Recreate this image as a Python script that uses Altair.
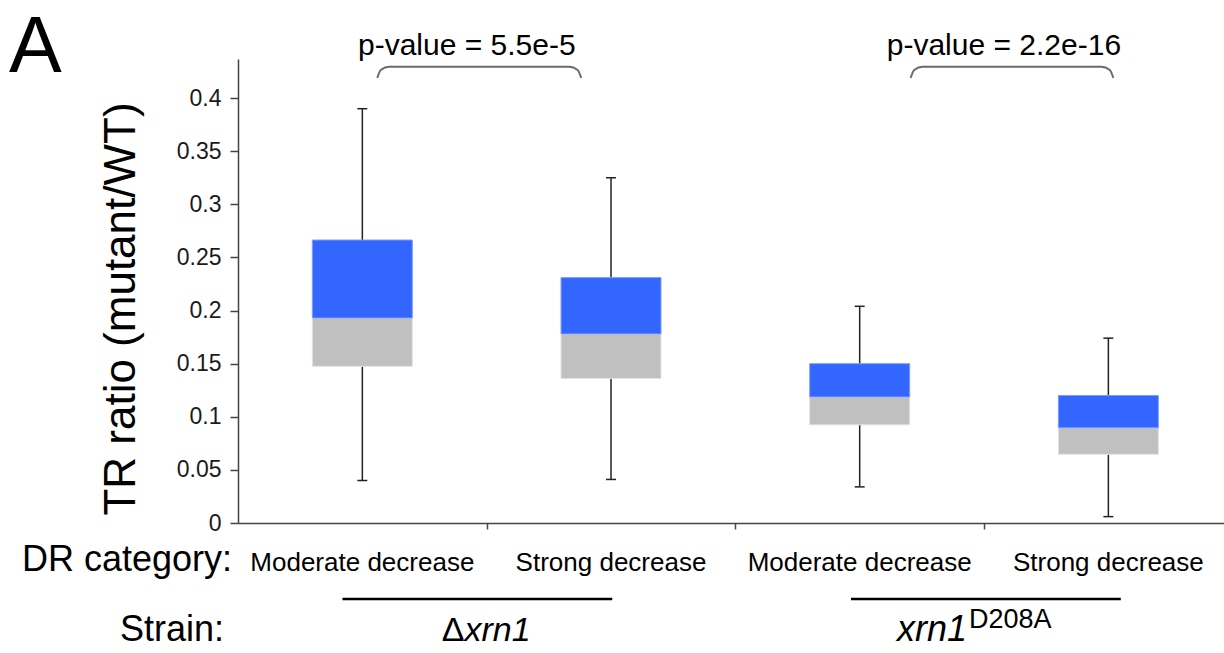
import altair as alt
import pandas as pd

# ---- data ----
categories = ["Moderate decrease", "Strong decrease", "Moderate decrease", "Strong decrease"]
positions = [1, 2, 3, 4]
whisker_low = [0.040, 0.041, 0.034, 0.006]
q1 = [0.1475, 0.136, 0.0924, 0.0647]
median = [0.193, 0.178, 0.1187, 0.0896]
q3 = [0.2664, 0.231, 0.150, 0.120]
whisker_high = [0.390, 0.325, 0.204, 0.174]

y_ticks = [0, 0.05, 0.1, 0.15, 0.2, 0.25, 0.3, 0.35, 0.4]
x_ticks = [1.5, 2.5, 3.5]

p_labels = ["p-value = 5.5e-5", "p-value = 2.2e-16"]
p_label_x = [1.42, 3.58]
brace_start = [1.06, 3.205]
brace_end = [1.88, 4.02]

strain_center = [1.463, 3.508]
strain_line_start = [0.92, 2.965]
strain_line_end = [2.005, 4.05]

FONT = "Liberation Sans"
BOX_HALF = 0.201
CAP_HALF = 0.02

df = pd.DataFrame({
    "pos": positions, "cat": categories, "lo": whisker_low, "q1": q1,
    "med": median, "q3": q3, "hi": whisker_high,
})
df["left"] = df["pos"] - BOX_HALF
df["right"] = df["pos"] + BOX_HALF
df["capl"] = df["pos"] - CAP_HALF
df["capr"] = df["pos"] + CAP_HALF

xscale = alt.Scale(domain=[0.5, 4.465], nice=False, zero=False)
yscale = alt.Scale(domain=[0, 0.4368], nice=False, zero=False)
axis_x = alt.Axis(values=x_ticks, labels=False, title=None, tickSize=6, grid=False,
                  domainColor="#444", tickColor="#444", domainWidth=1.5, tickWidth=1.5)
axis_y = alt.Axis(values=y_ticks, format="~g", title=None, tickSize=8, labelPadding=9,
                  grid=False, domainColor="#444", tickColor="#444", domainWidth=1.5,
                  tickWidth=1.5, labelFont=FONT, labelFontSize=23, labelColor="#1a1a1a")


def X(f):
    return alt.X(f, type="quantitative", scale=xscale, axis=axis_x)


def Y(f):
    return alt.Y(f, type="quantitative", scale=yscale, axis=axis_y)


base = alt.Chart(df)
WH = dict(color="#222222", strokeWidth=1.5)

whisk_lo = base.mark_rule(**WH).encode(x=X("pos"), y=Y("lo"), y2="q1:Q")
whisk_hi = base.mark_rule(**WH).encode(x=X("pos"), y=Y("q3"), y2="hi:Q")
cap_lo = base.mark_rule(**WH).encode(x=X("capl"), x2="capr:Q", y=Y("lo"))
cap_hi = base.mark_rule(**WH).encode(x=X("capl"), x2="capr:Q", y=Y("hi"))
gray = base.mark_rect(fill="#C0C0C0", stroke="#E2E2E2", strokeWidth=1).encode(
    x=X("left"), x2="right:Q", y=Y("q1"), y2="med:Q")
blue = base.mark_rect(fill="#3366FF", stroke="#7C9CFF", strokeWidth=1).encode(
    x=X("left"), x2="right:Q", y=Y("med"), y2="q3:Q")

# braces above pairs
brace_rows = []
for i, (a, b) in enumerate(zip(brace_start, brace_end)):
    pts = [(a, 0.419), (a + 0.014, 0.4265), (a + 0.048, 0.4295),
           (b - 0.048, 0.4295), (b - 0.014, 0.4265), (b, 0.419)]
    for j, (xx, yy) in enumerate(pts):
        brace_rows.append({"g": i, "o": j, "bx": xx, "by": yy})
braces = alt.Chart(pd.DataFrame(brace_rows)).mark_line(
    color="#6a6a6a", strokeWidth=2, interpolate="monotone").encode(
    x=X("bx"), y=Y("by"), detail="g:N", order="o:Q")

ptext = alt.Chart(pd.DataFrame({"x": p_label_x, "t": p_labels})).mark_text(
    font=FONT, fontSize=30, align="center", baseline="alphabetic", color="#000").encode(
    x=X("x"), y=alt.value(-4), text="t:N")

# category labels
cat_text = base.mark_text(font=FONT, fontSize=26, align="center", baseline="alphabetic",
                          color="#000").encode(x=X("pos"), y=alt.value(512), text="cat:N")

# strain lines
sl = alt.Chart(pd.DataFrame({"a": strain_line_start, "b": strain_line_end})).mark_rule(
    color="#000", strokeWidth=2.5).encode(x=X("a"), x2="b:Q", y=alt.value(540))

s1 = pd.DataFrame({"x": [strain_center[0]], "t": ["Δ"]})
s1b = pd.DataFrame({"x": [strain_center[0]], "t": ["xrn1"]})
s2 = pd.DataFrame({"x": [strain_center[1]], "t": ["xrn1"]})
s2b = pd.DataFrame({"x": [strain_center[1]], "t": ["D208A"]})
delta = alt.Chart(s1).mark_text(font=FONT, fontSize=34, align="right", baseline="alphabetic",
                                dx=-13, color="#000").encode(x=X("x"), y=alt.value(582), text="t:N")
xrn_a = alt.Chart(s1b).mark_text(font=FONT, fontSize=34, fontStyle="italic", align="left",
                                 baseline="alphabetic", dx=-13, color="#000").encode(
    x=X("x"), y=alt.value(582), text="t:N")
xrn_b = alt.Chart(s2).mark_text(font=FONT, fontSize=36, fontStyle="italic", align="right",
                                baseline="alphabetic", dx=-19, color="#000").encode(
    x=X("x"), y=alt.value(582), text="t:N")
sup = alt.Chart(s2b).mark_text(font=FONT, fontSize=27, align="left", baseline="alphabetic",
                               dx=-17, color="#000").encode(
    x=X("x"), y=alt.value(569), text="t:N")

lab = pd.DataFrame({"t": ["x"]})
dr_label = alt.Chart(lab).mark_text(font=FONT, fontSize=36, align="right", baseline="alphabetic",
                                    color="#000", text="DR category:").encode(
    x=alt.value(-6), y=alt.value(512))
strain_label = alt.Chart(lab).mark_text(font=FONT, fontSize=36, align="right",
                                        baseline="alphabetic", color="#000",
                                        text="Strain:").encode(x=alt.value(-14), y=alt.value(582))
panel = alt.Chart(lab).mark_text(font=FONT, fontSize=79, align="left", baseline="alphabetic",
                                 color="#000", text="A").encode(x=alt.value(-229), y=alt.value(13))
ytitle = alt.Chart(lab).mark_text(font=FONT, fontSize=44, align="center", baseline="middle",
                                  angle=270, color="#000", text="TR ratio (mutant/WT)").encode(
    x=alt.value(-116), y=alt.value(250))

chart = alt.layer(
    whisk_lo, whisk_hi, cap_lo, cap_hi, gray, blue, braces, ptext, cat_text, sl,
    delta, xrn_a, xrn_b, sup, dr_label, strain_label, panel, ytitle,
).properties(
    width=986, height=464,
    autosize=alt.AutoSizeParams(type="none"),
    padding={"left": 238, "top": 59, "right": 0, "bottom": 130},
    background="white",
).configure_view(stroke=None)

chart.save("out.html", embed_options={"renderer": "svg", "actions": False})
